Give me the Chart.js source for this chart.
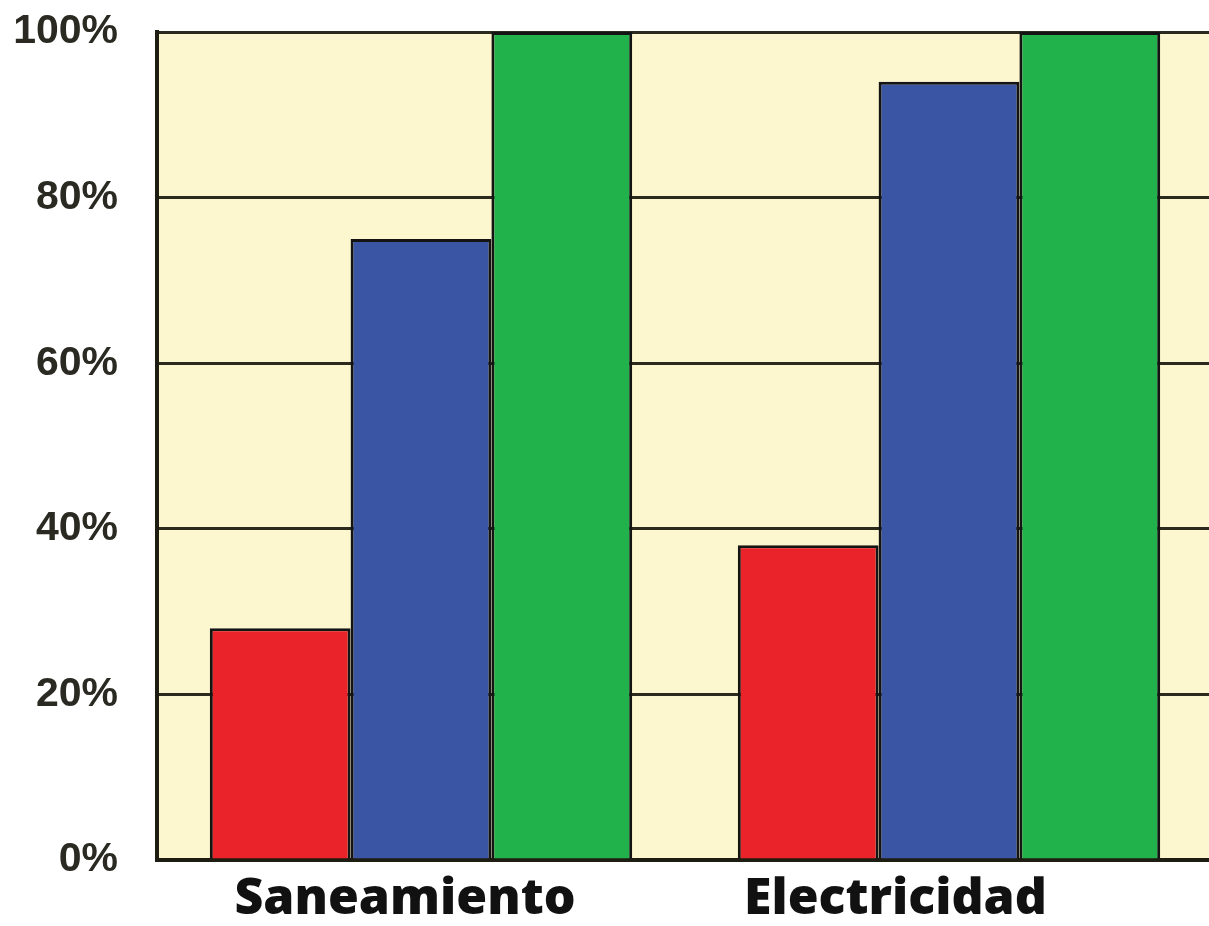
<!DOCTYPE html>
<html lang="es">
<head>
<meta charset="utf-8">
<title>Saneamiento y electricidad</title>
<script src="https://cdn.jsdelivr.net/npm/chart.js@4/dist/chart.umd.min.js"></script>
<style>
  html, body { margin: 0; padding: 0; background: #ffffff; overflow: hidden; width: 1209px; height: 926px; }
  #grafico { display: block; }
</style>
</head>
<body>
<canvas id="grafico" width="1216" height="926"></canvas>
<script>
// Categorías y valores (%) de cada serie
const categorias = ['Saneamiento', 'Electricidad'];
const serieRoja = [28, 38];
const serieAzul = [75, 94];
const serieVerde = [100, 100];
const marcasEje = [0, 20, 40, 60, 80, 100];

// Fondo crema del área de trazado
const fondoArea = {
  id: 'fondoArea',
  beforeDraw(chart) {
    const { ctx, chartArea: a } = chart;
    ctx.save();
    ctx.fillStyle = '#fcf7cf';
    ctx.fillRect(a.left, a.top, a.right - a.left, a.bottom - a.top);
    ctx.restore();
  }
};

const estiloBarra = {
  borderColor: '#141414',
  borderWidth: 3,
  borderSkipped: 'start',
  categoryPercentage: 0.8,
  barPercentage: 1.0
};

// Relleno a la derecha de la segunda etiqueta para desplazarla un poco a la izquierda
const rellenoEtiqueta = ['', '\u2002\u2002\u2002'];

new Chart(document.getElementById('grafico'), {
  type: 'bar',
  data: {
    labels: categorias,
    datasets: [
      Object.assign({ label: 'Serie 1', data: serieRoja, backgroundColor: '#ea2229' }, estiloBarra),
      Object.assign({ label: 'Serie 2', data: serieAzul, backgroundColor: '#3b55a5' }, estiloBarra),
      Object.assign({ label: 'Serie 3', data: serieVerde, backgroundColor: '#22b24c' }, estiloBarra)
    ]
  },
  options: {
    responsive: false,
    devicePixelRatio: 1,
    animation: false,
    layout: { padding: { top: 32, right: 3, bottom: 0, left: 0 } },
    plugins: { legend: { display: false }, tooltip: { enabled: false } },
    scales: {
      x: {
        grid: { display: false, drawTicks: false },
        border: { display: true, color: '#1e1d12', width: 4 },
        ticks: {
          color: '#111111',
          padding: 10,
          labelOffset: -16,
          font: { family: '"Open Sans", sans-serif', weight: 800, size: 50 },
          callback(value, index) { return categorias[index] + rellenoEtiqueta[index]; }
        },
        afterFit(scale) { scale.height = 66; }
      },
      y: {
        min: 0,
        max: 100,
        afterBuildTicks(scale) { scale.ticks = marcasEje.map(v => ({ value: v })); },
        grid: { color: '#2b2a1c', lineWidth: 3, drawTicks: false },
        border: { display: true, color: '#1e1d12', width: 4 },
        ticks: {
          color: '#2a2a22',
          padding: 39,
          font: { family: '"Liberation Sans", Arial, sans-serif', weight: 'bold', size: 41 },
          callback: v => v + '%'
        },
        afterFit(scale) {
          scale.width = 157;
          scale.paddingTop = 0;
          scale.paddingBottom = 0;
        }
      }
    }
  },
  plugins: [fondoArea]
});
</script>
</body>
</html>
